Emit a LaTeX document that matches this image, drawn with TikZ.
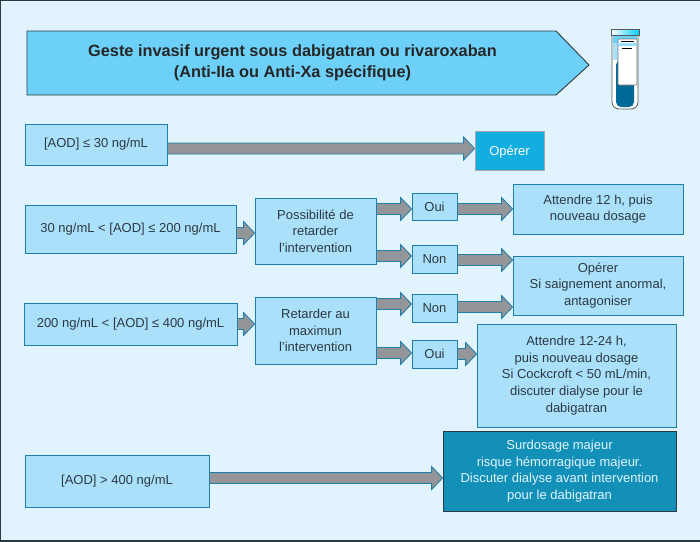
\documentclass[tikz,border=0pt]{standalone}
\usepackage{fontspec}
\setmainfont{Liberation Sans}
\usetikzlibrary{calc}
\definecolor{pagebg}{HTML}{E1F4FE}
\definecolor{titlebg}{HTML}{6DD0F8}
\definecolor{boxbg}{HTML}{ABE0FB}
\definecolor{boxline}{HTML}{1F7FA8}
\definecolor{midbg}{HTML}{14ADDF}
\definecolor{darkbg}{HTML}{1390B8}
\definecolor{arrowgray}{HTML}{939598}
\definecolor{textcol}{HTML}{2B3A42}
\definecolor{tubeblue}{HTML}{006A96}
\tikzset{
  box/.style={draw=boxline, fill=boxbg, line width=0.8pt, text=textcol,
    align=center, font=\fontsize{13}{16.7}\selectfont, inner sep=0pt},
  fatarrow/.style={draw=boxline, fill=arrowgray, line width=0.8pt, to path={
    let \p1=(\tikztostart), \p2=(\tikztotarget) in
    (\x1, \y1+5.5pt) -- (\x2-11pt, \y1+5.5pt) -- (\x2-11pt, \y1+11.5pt) --
    (\x2, \y1) -- (\x2-11pt, \y1-11.5pt) -- (\x2-11pt, \y1-5.5pt) --
    (\x1, \y1-5.5pt) -- cycle}}
}
\begin{document}
\begin{tikzpicture}[x=1pt, y=-1pt]
  \useasboundingbox (0, 0) rectangle (700, 541);
  \fill[pagebg] (0, 0) rectangle (700, 541);
  \draw[textcol, line width=2pt] (700, 0) -- (0, 0) -- (0, 541) -- (700, 541);

  \draw[fill=titlebg, draw=textcol, line width=0.9pt] (27, 31) -- (556, 31) --
  (589, 65) -- (556, 95) -- (27, 95) -- cycle;
  \node[align=center, text=black!85, font=\fontsize{16.3}{21}\selectfont\bfseries]
  (title) at (292.5, 63) {Geste invasif urgent sous dabigatran ou rivaroxaban\\
    (Anti-IIa ou Anti-Xa spécifique)};

  % tube
  \draw[fill=white, draw=black!65, line width=0.8pt, rounded corners=7pt]
  (612, 33) -- (612, 109) -- (638, 109) -- (638, 33);
  \fill[boxbg] (613, 36) rectangle (618, 60);
  \fill[titlebg] (613, 36) rectangle (637, 43);
  \fill[tubeblue, rounded corners=5pt] (616, 60) -- (616, 107) -- (634, 107) --
  (634, 60) -- cycle;
  \fill[left color=white, right color=cyan!80!blue, draw=black!65, line width=0.6pt]
  (611, 29) rectangle (639, 35);
  \draw[fill=white, draw=black!55, line width=0.6pt, rounded corners=1pt]
  (618, 39) rectangle (637, 85);
  \fill[titlebg!70] (618, 43) rectangle (637, 46);
  \draw[black, line width=0.8pt] (621, 41) -- (634, 41) (622, 48) -- (632, 48);

  \node[box, minimum width=142pt, minimum height=41pt] (aodA) at (96, 144.5)
  {[AOD] ≤ 30 ng/mL};
  \node[box, minimum width=69pt, minimum height=39pt, fill=midbg, draw=black!35,
  text=white, text depth=0pt] (opA) at (509.5, 150.5) {Opérer};

  \node[box, minimum width=211pt, minimum height=48pt] (aodB) at (130.5, 229)
  {30 ng/mL < [AOD] ≤ 200 ng/mL};
  \node[box, minimum width=121pt, minimum height=66pt] (delayA) at (315.5, 231)
  {Possibilité de\\retarder\\l’intervention};
  \node[box, minimum width=45pt, minimum height=27pt] (ouiA) at (434.5, 206.5) {Oui};
  \node[box, minimum width=45pt, minimum height=28pt] (nonA) at (434.5, 259) {Non};
  \node[box, minimum width=170pt, minimum height=50pt] (waitA) at (598, 209)
  {Attendre 12 h, puis\\nouveau dosage};
  \node[box, minimum width=170pt, minimum height=59pt] (opB) at (598, 285.5)
  {Opérer\\Si saignement anormal,\\antagoniser};

  \node[box, minimum width=213pt, minimum height=42pt] (aodC) at (130.5, 324)
  {200 ng/mL < [AOD] ≤ 400 ng/mL};
  \node[box, minimum width=121pt, minimum height=67pt] (delayB) at (315.5, 330.5)
  {Retarder au\\maximun\\l’intervention};
  \node[box, minimum width=45pt, minimum height=28pt] (nonB) at (434.5, 308) {Non};
  \node[box, minimum width=45pt, minimum height=28pt] (ouiB) at (434.5, 354) {Oui};
  \node[box, minimum width=199pt, minimum height=103pt] (waitB) at (576.5, 375.5)
  {Attendre 12-24 h,\\puis nouveau dosage\\Si Cockcroft < 50 mL/min,\\
    discuter dialyse pour le\\dabigatran};

  \node[box, minimum width=184pt, minimum height=52pt] (aodD) at (117, 481)
  {[AOD] > 400 ng/mL};
  \node[box, minimum width=233pt, minimum height=80pt, fill=darkbg, draw=textcol,
  text=pagebg] (major) at (559.5, 471)
  {Surdosage majeur\\risque hémorragique majeur.\\
    Discuter dialyse avant intervention\\pour le dabigatran};

  \draw[fatarrow] ([yshift=-4pt]aodA.east) to (opA.west);
  \draw[fatarrow] ([yshift=-4pt]aodB.east) to (delayA.west);
  \draw[fatarrow] (aodC.east) to (delayB.west);
  \draw[fatarrow] ([yshift=3pt]aodD.east) to (major.west);
  \draw[fatarrow] ([yshift=-2.5pt]delayA.east |- ouiA.west) to (ouiA.west);
  \draw[fatarrow] ([yshift=3pt]delayA.east |- nonA.west) to (nonA.west);
  \draw[fatarrow] ([yshift=4pt]delayB.east |- nonB.west) to (nonB.west);
  \draw[fatarrow] ([yshift=1pt]delayB.east |- ouiB.west) to (ouiB.west);
  \draw[fatarrow] (ouiA.east |- waitA.west) to (waitA.west);
  \draw[fatarrow] ([yshift=-1pt]nonA.east) to (opB.west);
  \draw[fatarrow] ([yshift=1pt]nonB.east) to (opB.west);
  \draw[fatarrow] (ouiB.east) to (waitB.west);
\end{tikzpicture}
\end{document}
